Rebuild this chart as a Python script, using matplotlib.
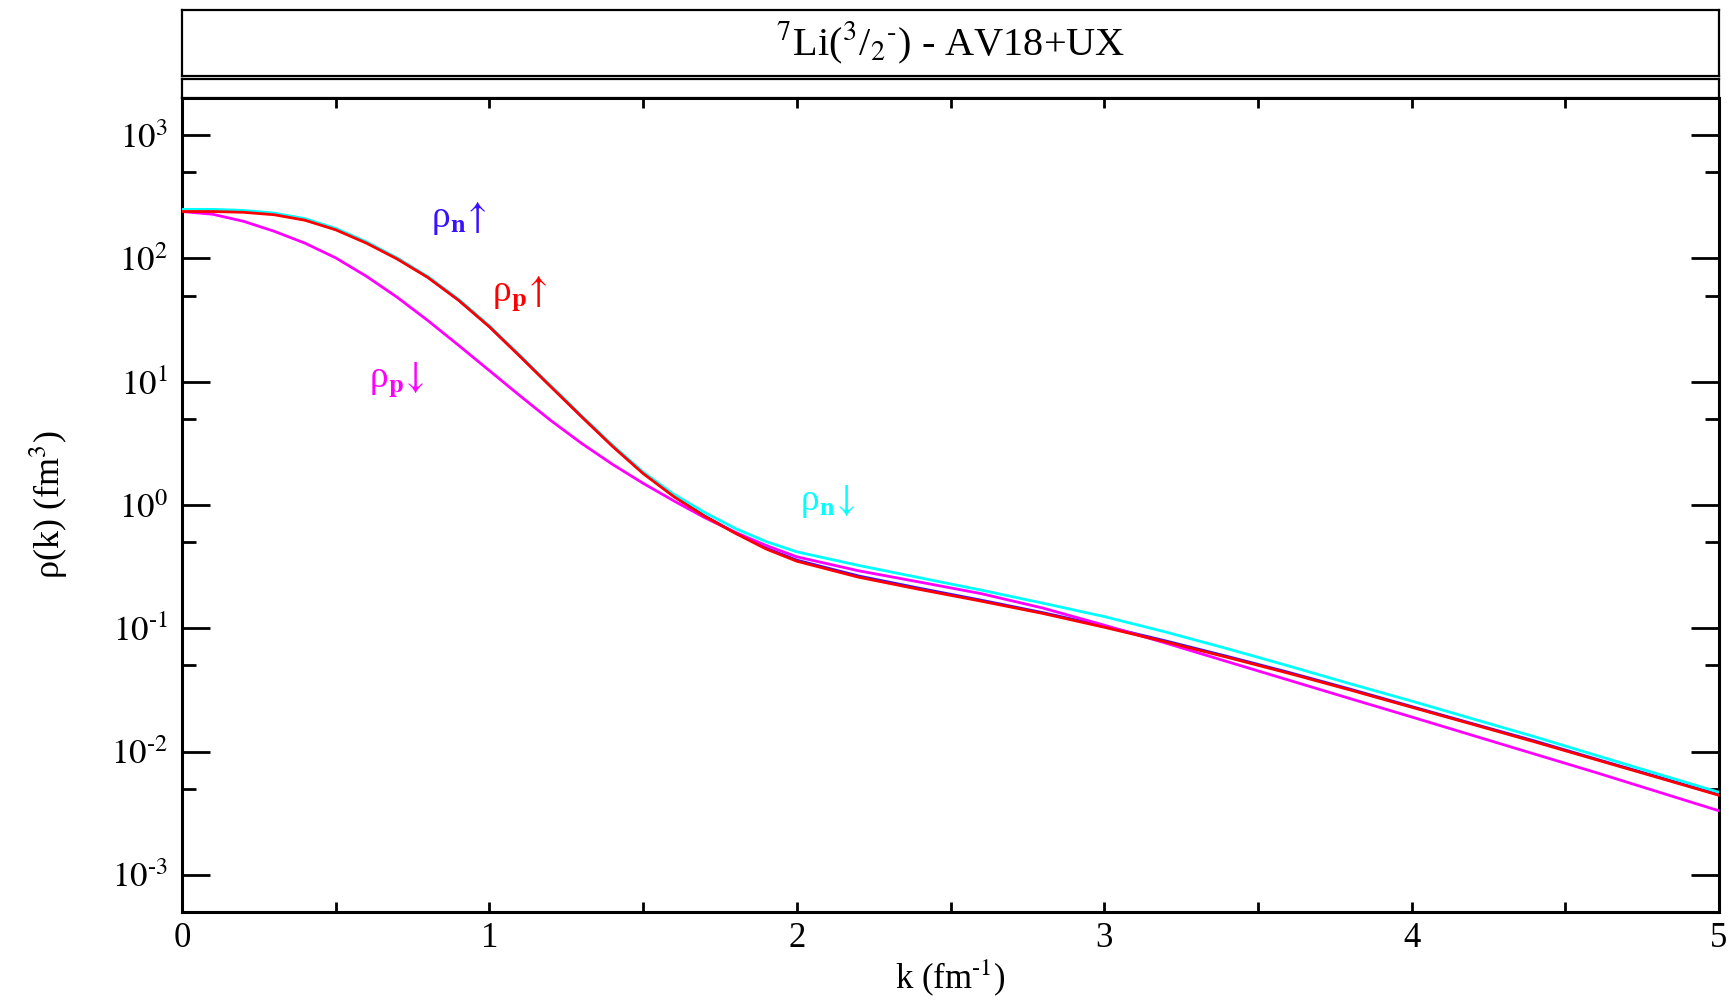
import matplotlib
matplotlib.use("Agg")
import matplotlib.pyplot as plt
from matplotlib.ticker import FixedLocator, FixedFormatter, NullFormatter

# ---------------- data ----------------
k = [0.0, 0.1, 0.2, 0.3, 0.4, 0.5, 0.6, 0.7, 0.8, 0.9, 1.0, 1.1, 1.2, 1.3, 1.4,
     1.5, 1.6, 1.7, 1.8, 1.9, 2.0, 2.2, 2.4, 2.6, 2.8, 3.0, 3.2, 3.4, 3.6, 3.8,
     4.0, 4.2, 4.4, 4.6, 4.8, 5.0]

rho_n_up = [245, 245, 241, 230, 207, 173, 135, 100, 70.5, 46, 28, 16.1, 9.15, 5.22, 3.02,
            1.82, 1.18, 0.815, 0.595, 0.447, 0.357, 0.266, 0.211, 0.169, 0.134, 0.104,
            0.079, 0.0592, 0.0439, 0.0321, 0.0232, 0.0168, 0.0122, 0.0087, 0.00625, 0.00447]

rho_p_up = [240, 240, 236.6, 226, 204, 170.6, 133, 98.9, 70, 45.7, 27.9, 16.0, 9.1, 5.2, 3.0,
            1.8, 1.17, 0.81, 0.59, 0.44, 0.35, 0.260, 0.2065, 0.166, 0.132, 0.102,
            0.0776, 0.0582, 0.0432, 0.0316, 0.0229, 0.0166, 0.0120, 0.0086, 0.00617, 0.00442]

rho_p_down = [240, 228, 200, 166, 133, 101, 71.6, 48.4, 31.3, 19.7, 12.3, 7.67, 4.84, 3.16, 2.14,
              1.50, 1.08, 0.79, 0.60, 0.47, 0.38, 0.293, 0.237, 0.191, 0.146, 0.106,
              0.0759, 0.0537, 0.038, 0.0269, 0.0191, 0.0135, 0.00955, 0.00676, 0.00473, 0.00331]

rho_n_down = [250, 250, 245, 233, 210, 175, 136, 100.5, 71, 46.5, 28.3, 16.2, 9.25, 5.28, 3.06,
              1.85, 1.22, 0.87, 0.645, 0.505, 0.417, 0.324, 0.257, 0.204, 0.160, 0.1245,
              0.0933, 0.0684, 0.0495, 0.0355, 0.0257, 0.0184, 0.0132, 0.00933, 0.0066, 0.00468]

series_labels = [r"ρ$_{\mathbf{n}}\!\uparrow$", r"ρ$_{\mathbf{p}}\!\uparrow$",
                 r"ρ$_{\mathbf{p}}\!\downarrow$", r"ρ$_{\mathbf{n}}\!\downarrow$"]
label_pos_k = [0.90, 1.10, 0.70, 2.10]
label_pos_rho = [212, 52.5, 10.5, 1.07]

x_ticks = [0, 1, 2, 3, 4, 5]
x_minor = [0.5, 1.5, 2.5, 3.5, 4.5]
y_ticks = [1e-3, 1e-2, 1e-1, 1e0, 1e1, 1e2, 1e3]
y_ticklabels = [r"$10^{\text{-}3}$", r"$10^{\text{-}2}$", r"$10^{\text{-}1}$", r"$10^{0}$",
                r"$10^{1}$", r"$10^{2}$", r"$10^{3}$"]
y_minor = [5e-4, 5e-3, 5e-2, 5e-1, 5e0, 5e1, 5e2]

title_text = r"$^{7}$Li($^{3}$/$_{2}$$^{\text{-}}$) - AV18+UX"

# ---------------- style ----------------
plt.rcParams["font.family"] = ["Liberation Serif", "DejaVu Serif"]
plt.rcParams["mathtext.fontset"] = "stix"

W, H = 1734, 1001
fig = plt.figure(figsize=(W / 100, H / 100), dpi=100)

L, R = 182, 1719
ax = fig.add_axes([L / W, 1 - 912 / H, (R - L) / W, (912 - 98) / H])

c_blue, c_red, c_mag, c_cyan = "#3a10ff", "#ff0000", "#ff00ff", "#00ffff"
lw = 2.0
ax.plot(k, rho_n_up, color=c_blue, lw=lw, zorder=3)
ax.plot(k, rho_p_down, color=c_mag, lw=lw, zorder=3)
ax.plot(k, rho_n_down, color=c_cyan, lw=lw, zorder=3)
ax.plot(k, rho_p_up, color=c_red, lw=lw, zorder=4)

ax.set_yscale("log")
ax.set_xlim(0, 5)
ax.set_ylim(5e-4, 2e3)

ax.xaxis.set_major_locator(FixedLocator(x_ticks))
ax.xaxis.set_minor_locator(FixedLocator(x_minor))
ax.set_xticklabels([str(v) for v in x_ticks])
ax.yaxis.set_major_locator(FixedLocator(y_ticks))
ax.yaxis.set_major_formatter(FixedFormatter(y_ticklabels))
ax.yaxis.set_minor_locator(FixedLocator(y_minor))
ax.yaxis.set_minor_formatter(NullFormatter())

for s in ax.spines.values():
    s.set_linewidth(2.2)

ax.tick_params(axis="x", which="both", direction="in", top=True, bottom=True,
               length=7, width=2, labelsize=25, pad=7)
ax.tick_params(axis="y", which="major", direction="in", left=True, right=True,
               length=20, width=2, labelsize=25, pad=10)
ax.tick_params(axis="y", which="minor", direction="in", left=True, right=True,
               length=10, width=2)

ax.set_xlabel(r"k (fm$^{\text{-}1}$)", fontsize=25, labelpad=2)
ax.set_ylabel(r"ρ(k) (fm$^{3}$)", fontsize=26, labelpad=30)

for lab, kk, rr, col in zip(series_labels, label_pos_k, label_pos_rho,
                            [c_blue, c_red, c_mag, c_cyan]):
    ax.text(kk, rr, lab, color=col, fontsize=27, ha="center", va="center")

# title box and empty strip above the plot
tb = fig.add_axes([L / W, 1 - 76 / H, (R - L) / W, (76 - 10) / H])
tb.set_xticks([]); tb.set_yticks([])
for s in tb.spines.values():
    s.set_linewidth(1.6)
tb.text(0.5, 0.5, title_text, fontsize=29, ha="center", va="center",
        transform=tb.transAxes)

sb = fig.add_axes([L / W, 1 - 98 / H, (R - L) / W, (98 - 79) / H])
sb.set_xticks([]); sb.set_yticks([])
for s in sb.spines.values():
    s.set_linewidth(1.6)

fig.savefig("out.png", dpi=100)
